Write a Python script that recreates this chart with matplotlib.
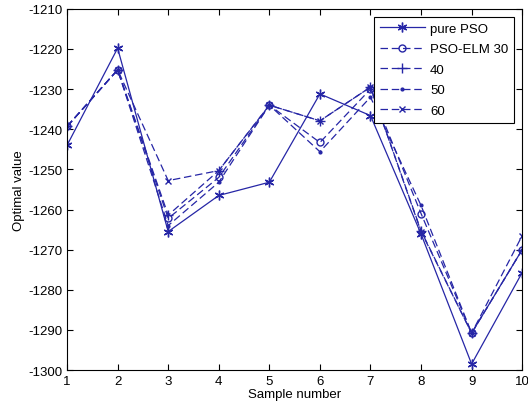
import matplotlib
matplotlib.use("Agg")
import matplotlib.pyplot as plt

plt.rcParams['font.family'] = ['Liberation Sans', 'DejaVu Sans']
plt.rcParams['axes.unicode_minus'] = False

x = [1, 2, 3, 4, 5, 6, 7, 8, 9, 10]
pure_pso = [-1244, -1219.8, -1265.5, -1256.5, -1253.2, -1231.2, -1236.6, -1266.1, -1298.5, -1275.7]
elm30 = [-1239.3, -1225.2, -1262.2, -1252.0, -1234, -1243.3, -1230.0, -1261.0, -1290.8, -1270.0]
elm40 = [-1239.3, -1225.2, -1261.4, -1250.3, -1234, -1237.9, -1229.5, -1265.3, -1290.8, -1270.0]
elm50 = [-1239.3, -1225.2, -1264.0, -1253.2, -1234, -1245.6, -1232.0, -1259.0, -1290.8, -1270.0]
elm60 = [-1239.3, -1225.2, -1252.8, -1250.3, -1234, -1237.9, -1229.5, -1265.5, -1290.8, -1266.5]
labels = ['pure PSO', 'PSO-ELM 30', '40', '50', '60']

c = (0.15, 0.15, 0.65)
fig = plt.figure(figsize=(5.28, 4.10), dpi=100)
ax = fig.add_axes([0.127, 0.095, 0.862, 0.881])
ast = (6, 2, 0)
ax.plot(x, pure_pso, '-', marker=ast, color=c, lw=0.9, ms=7, label=labels[0])
ax.plot(x, elm30, '--', marker='o', color=c, lw=0.9, ms=5, mfc='none', label=labels[1], dashes=(6, 3))
ax.plot(x, elm40, '--', marker='+', color=c, lw=0.9, ms=7, label=labels[2], dashes=(6, 3))
ax.plot(x, elm50, '--', marker='.', color=c, lw=0.9, ms=4, label=labels[3], dashes=(6, 3))
ax.plot(x, elm60, '--', marker='x', color=c, lw=0.9, ms=4, label=labels[4], dashes=(6, 3))

ax.set_xlim(1, 10)
ax.set_ylim(-1300, -1210)
ax.set_xticks(range(1, 11))
ax.set_yticks(range(-1300, -1209, 10))
ax.tick_params(direction='in', top=True, right=True, labelsize=9.5, length=4)
for s in ax.spines.values():
    s.set_linewidth(0.8)
ax.set_xlabel('Sample number', fontsize=9.5, labelpad=1)
ax.set_ylabel('Optimal value', fontsize=9.5, labelpad=2)
leg = ax.legend(loc='upper right', fontsize=9.5, fancybox=False, framealpha=1,
                edgecolor='black', handlelength=3.4, borderaxespad=0.6, labelspacing=0.62,
                handletextpad=0.4, borderpad=0.45)
leg.get_frame().set_linewidth(0.8)
fig.savefig('out.png', dpi=100)
